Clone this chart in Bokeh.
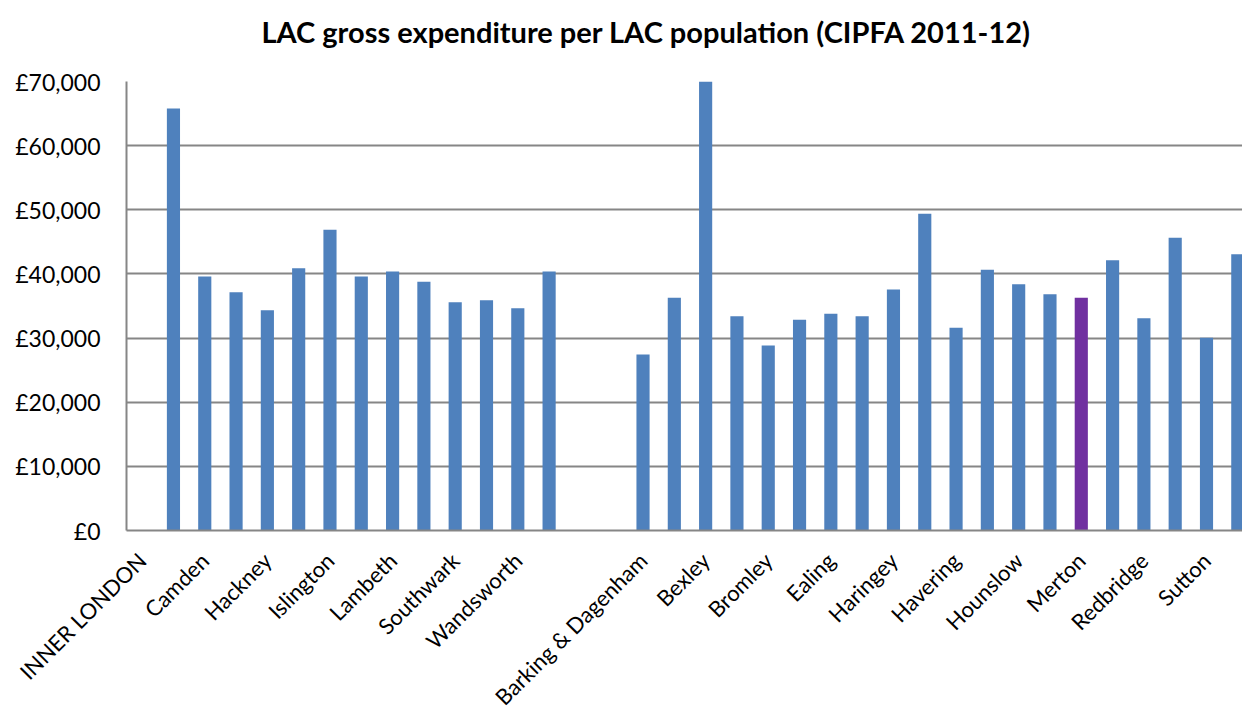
import math
from bokeh.plotting import figure
from bokeh.models import ColumnDataSource, FixedTicker, Range1d, Title
from bokeh.embed import file_html
from bokeh.resources import INLINE

# ---- data -------------------------------------------------------------
boroughs = [
    "INNER LONDON", "City of London", "Camden", "Greenwich", "Hackney",
    "Hammersmith & Fulham", "Islington", "Kensington & Chelsea", "Lambeth",
    "Lewisham", "Southwark", "Tower Hamlets", "Wandsworth", "Westminster",
    " ", "OUTER LONDON", "Barking & Dagenham", "Barnet", "Bexley", "Brent",
    "Bromley", "Croydon", "Ealing", "Enfield", "Haringey", "Harrow",
    "Havering", "Hillingdon", "Hounslow", "Kingston upon Thames", "Merton",
    "Newham", "Redbridge", "Richmond upon Thames", "Sutton", "Waltham Forest",
]
expenditure = [
    None, 65800, 39600, 37150, 34350, 40900, 46880, 39600, 40380, 38770,
    35600, 35900, 34660, 40380, None, None, 27440, 36280, 70000, 33410,
    28840, 32850, 33780, 33410, 37570, 49380, 31600, 40650, 38400, 36840,
    36280, 42140, 33100, 45630, 30040, 43080,
]
highlight = "Merton"
y_ticks = [0, 10000, 20000, 30000, 40000, 50000, 60000, 70000]
y_tick_labels = ["£0", "£10,000", "£20,000", "£30,000", "£40,000",
                 "£50,000", "£60,000", "£70,000"]
title_text = "LAC gross expenditure per LAC population (CIPFA 2011-12)"

# ---- styling ----------------------------------------------------------
BLUE = "#4F81BD"
PURPLE = "#7030A0"
GRID = "#868686"
FONT = "Lato"

xs, tops, colors = [], [], []
for i, (b, v) in enumerate(zip(boroughs, expenditure)):
    if v is None:
        continue
    xs.append(i)
    tops.append(v)
    colors.append(PURPLE if b == highlight else BLUE)
src = ColumnDataSource(dict(x=xs, top=tops, color=colors))

p = figure(
    width=1242, height=722, output_backend="svg", toolbar_location=None,
    x_range=Range1d(-0.5, 35.15), y_range=Range1d(0, 70000),
    min_border_left=126, min_border_right=0, min_border_top=81,
    min_border_bottom=0,
)
p.title.text = title_text
p.title.text_font = FONT
p.title.text_font_style = "bold"
p.title.text_font_size = "29px"
p.title.text_color = "black"
p.title.align = "left"
p.title.offset = 135
p.title.standoff = 10

# empty spacer between title and plot area
p.add_layout(Title(text=" ", text_font_size="1px", standoff=25), "above")

p.vbar(x="x", top="top", bottom=0, width=0.42, fill_color="color",
       line_color=None, source=src)

p.outline_line_color = None
p.background_fill_color = "white"
p.border_fill_color = "white"

p.xgrid.grid_line_color = None
p.ygrid.ticker = FixedTicker(ticks=y_ticks)
p.ygrid.grid_line_color = GRID
p.ygrid.grid_line_width = 2

p.yaxis.ticker = FixedTicker(ticks=y_ticks)
p.yaxis.major_label_overrides = {t: l for t, l in zip(y_ticks, y_tick_labels)}
p.yaxis.axis_line_color = GRID
p.yaxis.axis_line_width = 2
p.yaxis.major_tick_line_color = None
p.yaxis.minor_tick_line_color = None
p.yaxis.major_label_standoff = 20
p.yaxis.major_label_text_font = FONT
p.yaxis.major_label_text_font_size = "23px"
p.yaxis.major_label_text_color = "black"

label_ticks = list(range(0, len(boroughs), 2))
p.xaxis.ticker = FixedTicker(ticks=label_ticks)
p.xaxis.major_label_overrides = {i: boroughs[i] for i in label_ticks}
p.xaxis.major_label_orientation = math.pi / 4
p.xaxis.axis_line_color = GRID
p.xaxis.axis_line_width = 2
p.xaxis.major_tick_line_color = None
p.xaxis.minor_tick_line_color = None
p.xaxis.major_label_standoff = 20
p.xaxis.major_label_text_font = FONT
p.xaxis.major_label_text_font_size = "22px"
p.xaxis.major_label_text_color = "black"

open("out.html", "w").write(file_html(p, INLINE))
